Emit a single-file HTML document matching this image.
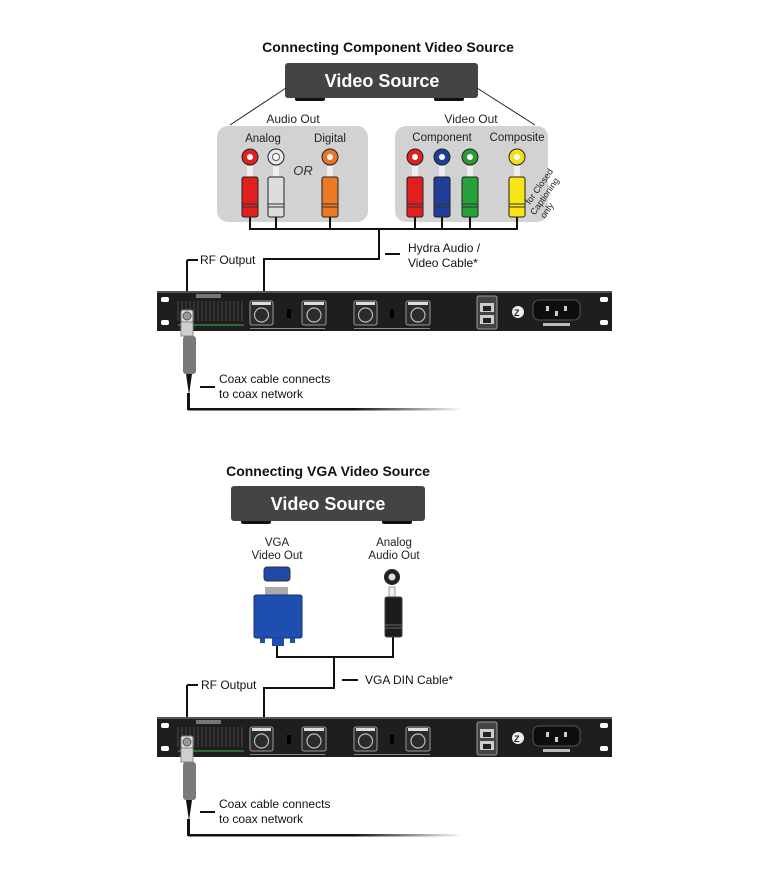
<!DOCTYPE html>
<html><head><meta charset="utf-8"><style>
html,body{margin:0;padding:0;background:#fff;}
svg{display:block;}
text{font-family:"Liberation Sans",sans-serif;}
</style></head><body>
<svg width="767" height="893" viewBox="0 0 767 893" xmlns="http://www.w3.org/2000/svg">
<defs>
<linearGradient id="fade" x1="0" x2="1" y1="0" y2="0">
<stop offset="0" stop-color="#111"/><stop offset="0.6" stop-color="#111"/><stop offset="1" stop-color="#fff"/>
</linearGradient>
<g id="rack">
<rect x="157" y="0" width="455" height="40" fill="#1e1e1e"/>
<rect x="157" y="0" width="455" height="2" fill="#555"/>
<rect x="161" y="6" width="8" height="5" rx="2" fill="#fff"/>
<rect x="161" y="29" width="8" height="5" rx="2" fill="#fff"/>
<rect x="600" y="6" width="8" height="5" rx="2" fill="#fff"/>
<rect x="600" y="29" width="8" height="5" rx="2" fill="#fff"/>
<rect x="196" y="3" width="25" height="4" fill="#777"/>
<g stroke="#444" stroke-width="1.2">
<path d="M178 10v20M182 10v20M186 10v20M190 10v20M194 10v20M198 10v20M202 10v20M206 10v20M210 10v20M214 10v20M218 10v20M222 10v20M226 10v20M230 10v20M234 10v20M238 10v20M242 10v20"/>
</g>
<rect x="178" y="33" width="66" height="2" fill="#2a6a3a"/>
<g fill="#2b2b2b" stroke="#999" stroke-width="1">
<rect x="250" y="10" width="23" height="24" rx="2"/>
<rect x="302" y="10" width="24" height="24" rx="2"/>
<rect x="354" y="10" width="23" height="24" rx="2"/>
<rect x="406" y="10" width="24" height="24" rx="2"/>
</g>
<g fill="none" stroke="#bbb" stroke-width="1.2">
<circle cx="261.5" cy="24" r="7"/><circle cx="314" cy="24" r="7"/><circle cx="365.5" cy="24" r="7"/><circle cx="418" cy="24" r="7"/>
</g>
<g fill="#ddd"><rect x="252" y="11" width="19" height="3"/><rect x="304" y="11" width="20" height="3"/><rect x="356" y="11" width="19" height="3"/><rect x="408" y="11" width="20" height="3"/></g>
<rect x="250" y="37" width="75" height="1" fill="#888"/><rect x="354" y="37" width="76" height="1" fill="#888"/>
<rect x="287" y="18" width="4" height="9" fill="#000"/><rect x="390" y="18" width="4" height="9" fill="#000"/>
<rect x="477" y="5" width="20" height="33" rx="2" fill="#444" stroke="#999"/>
<rect x="480" y="12" width="14" height="9" fill="#ccc"/><rect x="480" y="24" width="14" height="9" fill="#ccc"/>
<rect x="483" y="15" width="8" height="5" fill="#222"/><rect x="483" y="27" width="8" height="5" fill="#222"/>
<circle cx="518" cy="21" r="6" fill="#eee"/><text x="514" y="25" font-size="9" font-weight="bold" fill="#222">Z</text>
<rect x="533" y="9" width="47" height="20" rx="6" fill="#0d0d0d" stroke="#555"/>
<rect x="546" y="15" width="3" height="5" fill="#ccc"/><rect x="564" y="15" width="3" height="5" fill="#ccc"/><rect x="555" y="20" width="3" height="5" fill="#ccc"/>
<rect x="543" y="32" width="27" height="3" fill="#bbb"/>
</g>
<g id="coax">
<rect x="181" y="0" width="12" height="12" rx="2" fill="#ddd" stroke="#777"/>
<circle cx="187" cy="6" r="4" fill="#999" stroke="#555"/>
<rect x="181" y="12" width="12" height="14" fill="#cfcfcf" stroke="#888"/>
<rect x="183" y="26" width="13" height="38" rx="3" fill="#7a7a7a"/>
<path d="M186 64 L189 85 L192 64 Z" fill="#111"/>
</g>
</defs>

<!-- TOP -->
<text x="388" y="52" font-size="14" font-weight="bold" text-anchor="middle" fill="#111">Connecting Component Video Source</text>
<rect x="295" y="95" width="30" height="6" rx="2" fill="#111"/><rect x="434" y="95" width="30" height="6" rx="2" fill="#111"/>
<rect x="285" y="63" width="193" height="35" rx="3" fill="#444"/>
<text x="382" y="87" font-size="18" font-weight="bold" text-anchor="middle" fill="#fff" font-family="DejaVu Sans, sans-serif">Video Source</text>
<line x1="286" y1="88" x2="230" y2="125" stroke="#222" stroke-width="1"/>
<line x1="477" y1="88" x2="535" y2="125" stroke="#222" stroke-width="1"/>
<text x="293" y="123" font-size="12" text-anchor="middle" fill="#222" font-family="DejaVu Sans, sans-serif">Audio Out</text>
<text x="471" y="123" font-size="12" text-anchor="middle" fill="#222" font-family="DejaVu Sans, sans-serif">Video Out</text>
<rect x="217" y="126" width="151" height="96" rx="11" fill="#d2d2d2"/>
<rect x="395" y="126" width="153" height="96" rx="11" fill="#d2d2d2"/>
<g font-size="11.5" fill="#222" text-anchor="middle" font-family="DejaVu Sans, sans-serif">
<text x="263" y="142">Analog</text><text x="330" y="142">Digital</text>
<text x="442" y="141">Component</text><text x="517" y="141">Composite</text>
</g>
<text x="303" y="175" font-size="13" font-style="italic" text-anchor="middle" fill="#333">OR</text>
<text transform="translate(530,205) rotate(-55)" font-size="9" fill="#222" font-family="DejaVu Sans, sans-serif"><tspan x="0" y="0">for Closed</tspan><tspan x="-6" y="10">Captioning</tspan><tspan x="-3" y="20">only</tspan></text>
<!-- wires -->
<g stroke="#111" stroke-width="2" fill="none">
<path d="M250 217V229M276 217V229M330 217V229M415 217V229M442 217V229M470 217V229M517 217V229"/>
<path d="M249 229H518"/>
<path d="M379 229V259H264V303"/>
<path d="M187 260H198M187 260V312"/>
<path d="M385 254H400M200 387H215"/>
</g>
<!-- jacks & plugs -->
<g stroke="#222" stroke-width="1">
<circle cx="250" cy="157" r="8" fill="#d22"/><circle cx="276" cy="157" r="8" fill="#e8e8e8"/><circle cx="330" cy="157" r="8" fill="#e8742a"/>
<circle cx="415" cy="157" r="8" fill="#d22"/><circle cx="442" cy="157" r="8" fill="#1f3f9a"/><circle cx="470" cy="157" r="8" fill="#2a9a35"/><circle cx="517" cy="157" r="8" fill="#f2e01a"/>
</g>
<g fill="#fff"><circle cx="250" cy="157" r="3"/><circle cx="276" cy="157" r="3.5" stroke="#555"/><circle cx="330" cy="157" r="3"/><circle cx="415" cy="157" r="3"/><circle cx="442" cy="157" r="3"/><circle cx="470" cy="157" r="3"/><circle cx="517" cy="157" r="3"/></g>
<g fill="#eee"><rect x="247" y="166" width="6" height="11"/><rect x="273" y="166" width="6" height="11"/><rect x="327" y="166" width="6" height="11"/><rect x="412" y="166" width="6" height="11"/><rect x="439" y="166" width="6" height="11"/><rect x="467" y="166" width="6" height="11"/><rect x="514" y="166" width="6" height="11"/></g>
<g stroke="#222" stroke-width="1">
<rect x="242" y="177" width="16" height="40" rx="2" fill="#e21f1f"/><rect x="268" y="177" width="16" height="40" rx="2" fill="#dcdcdc"/><rect x="322" y="177" width="16" height="40" rx="2" fill="#ef7a25"/>
<rect x="407" y="177" width="16" height="40" rx="2" fill="#e21f1f"/><rect x="434" y="177" width="16" height="40" rx="2" fill="#1f3f9a"/><rect x="462" y="177" width="16" height="40" rx="2" fill="#25a33a"/><rect x="509" y="177" width="16" height="40" rx="2" fill="#f7e515"/>
</g>
<g stroke="#333" stroke-width="1"><path d="M242 204h16M242 207h16M268 204h16M268 207h16M322 204h16M322 207h16M407 204h16M407 207h16M434 204h16M434 207h16M462 204h16M462 207h16M509 204h16M509 207h16"/></g>
<g font-size="12" fill="#111">
<text x="200" y="264">RF Output</text>
<text x="408" y="252">Hydra Audio /</text><text x="408" y="267">Video Cable*</text>
<text x="219" y="383">Coax cable connects</text><text x="219" y="398">to coax network</text>
</g>
<use href="#rack" transform="translate(0,291)"/>
<use href="#coax" transform="translate(0,310)"/>
<rect x="187" y="393" width="3" height="17" fill="#111"/>
<rect x="188" y="408" width="275" height="2.5" fill="url(#fade)"/>

<!-- BOTTOM -->
<text x="328" y="476" font-size="14" font-weight="bold" text-anchor="middle" fill="#111">Connecting VGA Video Source</text>
<rect x="241" y="518" width="30" height="6" rx="2" fill="#111"/><rect x="382" y="518" width="30" height="6" rx="2" fill="#111"/>
<rect x="231" y="486" width="194" height="35" rx="3" fill="#444"/>
<text x="328" y="510" font-size="18" font-weight="bold" text-anchor="middle" fill="#fff" font-family="DejaVu Sans, sans-serif">Video Source</text>
<g font-size="11.5" fill="#222" text-anchor="middle" font-family="DejaVu Sans, sans-serif">
<text x="277" y="546">VGA</text><text x="277" y="559">Video Out</text>
<text x="394" y="546">Analog</text><text x="394" y="559">Audio Out</text>
</g>
<g stroke="#111" stroke-width="2" fill="none">
<path d="M277 645V657H393V637"/>
<path d="M334 657V688H264V722"/>
<path d="M187 685H198M187 685V737"/>
<path d="M342 680H358M200 812H215"/>
</g>
<rect x="264" y="567" width="26" height="14" rx="3" fill="#1f4aa8" stroke="#333"/>
<rect x="265" y="587" width="23" height="8" fill="#aaa"/>
<rect x="254" y="595" width="48" height="43" rx="2" fill="#1e4fb0" stroke="#1a2d70"/>
<rect x="260" y="638" width="5" height="5" fill="#1e4fb0"/><rect x="290" y="638" width="5" height="5" fill="#1e4fb0"/><rect x="272" y="638" width="12" height="8" fill="#1e4fb0"/>
<circle cx="392" cy="577" r="8" fill="#222"/><circle cx="392" cy="577" r="3.5" fill="#ddd"/>
<rect x="389" y="587" width="6" height="10" fill="#eee" stroke="#999"/>
<rect x="385" y="597" width="17" height="40" rx="2" fill="#1c1c1c" stroke="#444"/>
<path d="M385 625h17M385 628h17" stroke="#666"/>
<g font-size="12" fill="#111">
<text x="201" y="689">RF Output</text>
<text x="365" y="684">VGA DIN Cable*</text>
<text x="219" y="808">Coax cable connects</text><text x="219" y="823">to coax network</text>
</g>
<use href="#rack" transform="translate(0,717)"/>
<use href="#coax" transform="translate(0,736)"/>
<rect x="187" y="819" width="3" height="17" fill="#111"/>
<rect x="188" y="834" width="275" height="2.5" fill="url(#fade)"/>
</svg>
</body></html>
